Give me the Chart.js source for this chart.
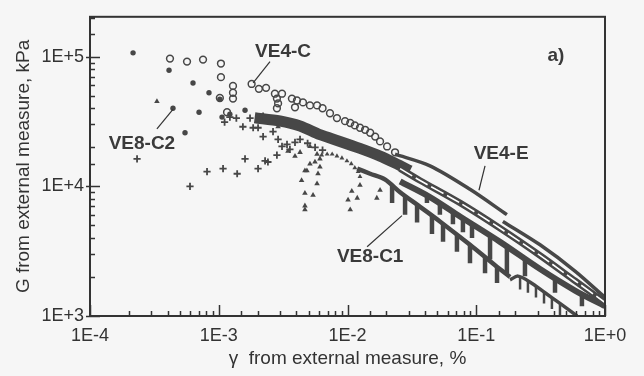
<!DOCTYPE html>
<html>
<head>
<meta charset="utf-8">
<script src="https://cdn.jsdelivr.net/npm/chart.js@4.4.1/dist/chart.umd.min.js"></script>
<style>
html, body { margin: 0; padding: 0; background: #f6f6f6; }
#wrap { width: 644px; height: 376px; }
</style>
</head>
<body>
<div id="wrap"><canvas id="chart" width="644" height="376"></canvas></div>
<script>
// strain in %, G in kPa

// VE4-C open circles
var ve4cStrain = [4.18e-4, 5.67e-4, 7.55e-4, 1.04e-3, 1.04e-3, 1.02e-3, 1.16e-3, 1.29e-3, 1.29e-3, 1.29e-3,
	1.80e-3, 2.05e-3, 2.33e-3, 2.73e-3, 3.10e-3, 2.83e-3, 2.89e-3, 2.83e-3, 3.70e-3, 4.05e-3,
	3.91e-3, 4.51e-3, 5.11e-3, 5.80e-3, 6.40e-3, 7.31e-3, 8.28e-3, 9.57e-3, 1.05e-2, 1.25e-2,
	1.50e-2, 1.79e-2, 2.03e-2, 2.34e-2, 1.14e-2, 1.37e-2, 1.64e-2];
var ve4cG = [9.66e4, 9.16e4, 9.49e4, 8.85e4, 6.95e4, 4.80e4, 3.73e4, 5.95e4, 5.27e4, 4.75e4,
	6.16e4, 5.65e4, 5.75e4, 5.18e4, 5.18e4, 4.75e4, 4.36e4, 4.00e4, 4.75e4, 4.59e4,
	4.07e4, 4.44e4, 4.21e4, 4.21e4, 4.00e4, 3.66e4, 3.36e4, 3.18e4, 3.08e4, 2.83e4,
	2.59e4, 2.22e4, 2.03e4, 1.83e4, 2.95e4, 2.73e4, 2.42e4];

// VE8-C2 filled dots
var ve8c2Strain = [2.16e-4, 4.11e-4, 6.31e-4, 8.40e-4, 4.41e-4, 7.03e-4, 5.47e-4, 1.02e-3, 1.06e-3, 1.22e-3, 1.60e-3];
var ve8c2G = [1.07e5, 7.85e4, 6.27e4, 5.27e4, 4.00e4, 3.73e4, 2.59e4, 4.70e4, 3.42e4, 3.60e4, 3.86e4];

// plus markers
var crossStrain = [2.32e-4, 5.98e-4, 8.11e-4, 1.08e-3, 1.39e-3, 1.60e-3, 2.02e-3, 2.29e-3, 2.41e-3, 2.83e-3,
	1.54e-3, 2.02e-3, 2.21e-3, 1.85e-3, 2.64e-3, 2.89e-3, 3.10e-3, 3.39e-3, 3.57e-3, 3.91e-3,
	4.28e-3, 1.22e-3, 1.37e-3, 1.75e-3, 2.21e-3, 1.11e-3, 4.9e-3, 5.6e-3, 6.4e-3];
var crossG = [1.63e4, 1.00e4, 1.30e4, 1.37e4, 1.25e4, 1.63e4, 1.37e4, 1.57e4, 1.54e4, 1.74e4,
	2.88e4, 2.83e4, 2.42e4, 2.83e4, 2.64e4, 2.30e4, 2.03e4, 2.11e4, 1.93e4, 2.18e4,
	2.30e4, 3.42e4, 3.36e4, 3.36e4, 3.48e4, 3.13e4, 2.15e4, 2.0e4, 1.9e4];

// scattered triangles (VE8-C1)
var triStrain = [3.31e-4, 2.89e-3, 5.11e-3, 5.80e-3, 6.11e-3, 5.11e-3, 4.84e-3, 5.59e-3, 6.11e-3, 4.67e-3,
	5.90e-3, 4.40e-3, 5.80e-3, 4.67e-3, 5.40e-3, 4.67e-3, 4.67e-3, 1.25e-2, 1.08e-2, 1.19e-2,
	1.01e-2, 1.05e-2, 1.79e-2, 1.69e-2, 3.45e-3, 3.91e-3, 4.28e-3];
var triG = [4.51e4, 2.88e4, 2.03e4, 1.77e4, 1.63e4, 1.49e4, 1.32e4, 1.54e4, 1.41e4, 1.32e4,
	1.25e4, 1.11e4, 1.05e4, 8.85e3, 8.55e3, 7.08e3, 6.61e3, 1.02e4, 9.17e3, 8.12e3,
	7.85e3, 6.61e3, 9.33e3, 8.12e3, 1.87e4, 1.71e4, 1.83e4];

// first triangle arc
var arcStrain = [6.3e-3, 6.95e-3, 7.6e-3, 8.28e-3, 9.05e-3, 9.9e-3, 1.07e-2, 1.14e-2, 1.21e-2, 1.25e-2];
var arcG = [1.74e4, 1.77e4, 1.77e4, 1.71e4, 1.65e4, 1.57e4, 1.49e4, 1.39e4, 1.30e4, 1.19e4];

// dense band of overlapping markers
var bandStrain = [1.9e-3, 2.99e-3, 4.28e-3, 6.11e-3, 8.74e-3, 1.25e-2, 1.79e-2, 2.34e-2, 3.06e-2];
var bandG = [3.38e4, 3.19e4, 2.92e4, 2.50e4, 2.22e4, 1.96e4, 1.71e4, 1.51e4, 1.32e4];

// VE4-E curves
var e1Strain = [2.34e-2, 4.37e-2, 8.94e-2, 1.73e-1];
var e1G = [1.77e4, 1.44e4, 9.49e3, 6.05e3];
var e2Strain = [1.61e-1, 3.13e-1, 5.85e-1, 1];
var e2G = [5.36e3, 3.54e3, 2.22e3, 1.39e3];
var e3Strain = [2.56e-2, 3.66e-2, 7.48e-2, 1.53e-1, 3.13e-1, 5.85e-1, 1];
var e3G = [1.37e4, 1.11e4, 7.45e3, 4.75e3, 2.93e3, 1.87e3, 1.27e3];
var e4Strain = [2.56e-2, 4.37e-2, 7.48e-2, 1.53e-1, 3.13e-1, 5.85e-1, 1];
var e4G = [1.09e4, 8.26e3, 5.85e3, 3.73e3, 2.30e3, 1.57e3, 1.19e3];

// VE8-C1 envelope and the last sub-arc
var c1Strain = [1.19e-2, 1.50e-2, 1.95e-2, 2.56e-2, 3.66e-2, 5.22e-2, 8.94e-2, 1.40e-1, 1.83e-1];
var c1G = [1.37e4, 1.25e4, 1.13e4, 9.01e3, 6.95e3, 5.36e3, 3.54e3, 2.46e3, 2.00e3];
var c1bStrain = [1.83e-1, 2.11e-1, 2.61e-1, 3.42e-1, 4.47e-1, 6.07e-1];
var c1bG = [1.90e3, 2.03e3, 1.83e3, 1.51e3, 1.25e3, 1.0e3];

// unloading drops hanging below the curves
var toothStrain = [4.14e-2, 5.22e-2, 6.59e-2, 7.88e-2, 9.27e-2, 1.28e-1, 1.73e-1, 2.39e-1, 4.09e-1, 6.62e-1,
	2.22e-2, 2.80e-2, 3.47e-2, 4.53e-2, 5.52e-2, 7.08e-2, 8.94e-2, 1.17e-1, 1.45e-1,
	2.19e-1, 2.52e-1, 2.91e-1, 3.36e-1, 3.87e-1, 4.47e-1];
var toothTop = [8.55e3, 7.33e3, 6.38e3, 5.65e3, 5.09e3, 4.21e3, 3.42e3, 2.78e3, 1.93e3, 1.44e3,
	1.02e4, 8.41e3, 7.2e3, 5.95e3, 5.18e3, 4.28e3, 3.54e3, 2.83e3, 2.38e3,
	1.96e3, 1.87e3, 1.71e3, 1.54e3, 1.39e3, 1.25e3];
var toothBottom = [7.45e3, 6.05e3, 5.09e3, 4.43e3, 4.0e3, 2.73e3, 2.14e3, 2.03e3, 1.51e3, 1.19e3,
	7.45e3, 6.05e3, 5.27e3, 4.28e3, 3.73e3, 3.13e3, 2.55e3, 2.14e3, 1.80e3,
	1.60e3, 1.51e3, 1.39e3, 1.25e3, 1.13e3, 1.02e3];

var xTickLabels = ['1E-4', '1E-3', '1E-2', '1E-1', '1E+0'];
var yTickLabels = ['1E+3', '1E+4', '1E+5'];

var ink = '#474747';
var font = 'Liberation Sans, Arial, sans-serif';

function pts(xs, ys) {
	return xs.map(function(x, i){ return {x: x, y: ys[i]}; });
}
function isPow10(v) {
	var l = Math.log10(v);
	return Math.abs(l - Math.round(l)) < 1e-6;
}

var datasets = [];
datasets.push({ data: pts(ve4cStrain, ve4cG), pointStyle: 'circle', pointRadius: 3.4, borderWidth: 1.5,
	borderColor: ink, backgroundColor: 'rgba(0,0,0,0)', showLine: false, order: 1 });
datasets.push({ data: pts(ve8c2Strain, ve8c2G), pointStyle: 'circle', pointRadius: 2.7, borderWidth: 0,
	backgroundColor: ink, showLine: false, order: 2 });
datasets.push({ data: pts(crossStrain, crossG), pointStyle: 'cross', pointRadius: 3.6, borderWidth: 1.8,
	borderColor: ink, showLine: false, order: 3 });
datasets.push({ data: pts(triStrain, triG), pointStyle: 'triangle', pointRadius: 3.2, borderWidth: 0,
	backgroundColor: ink, showLine: false, order: 4 });
datasets.push({ data: pts(arcStrain, arcG), pointStyle: 'triangle', pointRadius: 2.8, borderWidth: 0,
	backgroundColor: ink, showLine: false, order: 5 });
datasets.push({ data: pts(bandStrain, bandG), showLine: true, pointRadius: 0, borderWidth: 11,
	borderColor: ink, tension: 0.3, order: 20 });
// VE4-E
datasets.push({ data: pts(e1Strain, e1G), showLine: true, pointRadius: 0, borderWidth: 3.5,
	borderColor: ink, tension: 0.3, order: 10 });
datasets.push({ data: pts(e2Strain, e2G), showLine: true, pointRadius: 0, borderWidth: 3.5,
	borderColor: ink, tension: 0.3, order: 10 });
datasets.push({ data: pts(e3Strain, e3G), showLine: true, pointRadius: 0, borderWidth: 1.6,
	borderColor: '#ffffff', borderDash: [14, 4], tension: 0.3, order: 6 });
datasets.push({ data: pts(e3Strain, e3G), showLine: true, pointRadius: 0, borderWidth: 6.5,
	borderColor: ink, tension: 0.3, order: 11 });
datasets.push({ data: pts(e4Strain, e4G), showLine: true, pointRadius: 0, borderWidth: 6,
	borderColor: ink, tension: 0.3, order: 12 });
// VE8-C1
datasets.push({ data: pts(c1Strain, c1G), showLine: true, pointRadius: 0, borderWidth: 4.5,
	borderColor: ink, tension: 0.3, order: 13 });
datasets.push({ data: pts(c1bStrain, c1bG), showLine: true, pointRadius: 0, borderWidth: 3.5,
	borderColor: ink, tension: 0.3, order: 13 });
for (var i = 0; i < toothStrain.length; i++) {
	datasets.push({ data: [{x: toothStrain[i], y: toothTop[i]}, {x: toothStrain[i], y: toothBottom[i]}],
		showLine: true, pointRadius: 0, borderWidth: i >= 19 ? 2.5 : 4.5, borderColor: ink, order: 14 });
}

// labels and leader lines, in data units
var notes = [
	{ text: 'VE4-C', x: 3.16e-3, y: 1.09e5, lx: [2.5e-3, 1.85e-3], ly: [9.16e4, 6.27e4] },
	{ text: 'VE8-C2', x: 2.53e-4, y: 2.14e4, lx: [3.31e-4, 4.41e-4], ly: [2.78e4, 3.93e4] },
	{ text: 'VE4-E', x: 0.156, y: 1.77e4, lx: [0.117, 0.105], ly: [1.44e4, 9.33e3] },
	{ text: 'VE8-C1', x: 1.50e-2, y: 2.88e3, lx: [1.42e-2, 2.65e-2], ly: [3.42e3, 5.95e3] },
	{ text: 'a)', x: 0.416, y: 1.02e5 }
];

var decor = {
	id: 'decor',
	afterDatasetsDraw: function(chart) {
		var ctx = chart.ctx, a = chart.chartArea;
		var xs = chart.scales.x, ys = chart.scales.y;
		ctx.save();
		ctx.strokeStyle = '#333';
		ctx.lineWidth = 1.5;
		xs.ticks.forEach(function(t) {
			if (t.value < 1e-4 || t.value > 1) return;
			var px = Math.round(xs.getPixelForValue(t.value)) + 0.5;
			var len = isPow10(t.value) ? 11 : 5;
			ctx.beginPath(); ctx.moveTo(px, a.bottom); ctx.lineTo(px, a.bottom - len); ctx.stroke();
		});
		ys.ticks.forEach(function(t) {
			if (t.value < 1e3) return;
			var py = Math.round(ys.getPixelForValue(t.value)) + 0.5;
			var maj = isPow10(t.value);
			ctx.beginPath(); ctx.moveTo(a.left - (maj ? 4 : 0), py); ctx.lineTo(a.left + (maj ? 10 : 5), py); ctx.stroke();
		});
		ctx.lineWidth = 2;
		ctx.strokeRect(a.left, a.top, a.right - a.left, a.bottom - a.top);

		ctx.fillStyle = '#3a3a3a';
		ctx.font = 'bold 19px ' + font;
		ctx.textAlign = 'center';
		ctx.textBaseline = 'middle';
		ctx.lineWidth = 1.2;
		notes.forEach(function(n) {
			ctx.fillText(n.text, xs.getPixelForValue(n.x), ys.getPixelForValue(n.y));
			if (n.lx) {
				ctx.beginPath();
				ctx.moveTo(xs.getPixelForValue(n.lx[0]), ys.getPixelForValue(n.ly[0]));
				ctx.lineTo(xs.getPixelForValue(n.lx[1]), ys.getPixelForValue(n.ly[1]));
				ctx.stroke();
			}
		});
		ctx.restore();
	}
};

var ctx = document.getElementById('chart').getContext('2d');
var chart = new Chart(ctx, {
	type: 'scatter',
	data: { datasets: datasets },
	options: {
		responsive: false,
		animation: false,
		layout: { padding: { top: 9, right: 39, bottom: 0, left: 0 } },
		plugins: { legend: { display: false }, tooltip: { enabled: false } },
		scales: {
			x: {
				type: 'logarithmic',
				min: 1e-4,
				max: 1,
				afterFit: function(s) { s.height = 60; },
				grid: { display: false, drawTicks: false },
				border: { display: false },
				ticks: {
					autoSkip: false,
					maxRotation: 0,
					padding: 9,
					color: '#333',
					font: { family: font, size: 18 },
					callback: function(v) {
						if (!isPow10(v)) return '';
						return xTickLabels[Math.round(Math.log10(v)) + 4];
					}
				},
				title: {
					display: true,
					text: 'γ  from external measure, %',
					color: '#333',
					font: { family: font, size: 19 },
					padding: { top: 0, bottom: 6 }
				}
			},
			y: {
				type: 'logarithmic',
				min: 1e3,
				max: 2.03e5,
				afterFit: function(s) { s.width = 90; },
				grid: { display: false, drawTicks: false },
				border: { display: false },
				ticks: {
					autoSkip: false,
					padding: 6,
					color: '#333',
					font: { family: font, size: 18 },
					callback: function(v) {
						if (!isPow10(v)) return '';
						var k = Math.round(Math.log10(v)) - 3;
						return yTickLabels[k] || '';
					}
				},
				title: {
					display: true,
					text: 'G from external measure, kPa',
					color: '#333',
					font: { family: font, size: 19 },
					padding: { top: 12, bottom: 0 }
				}
			}
		}
	},
	plugins: [decor]
});
</script>
</body>
</html>
